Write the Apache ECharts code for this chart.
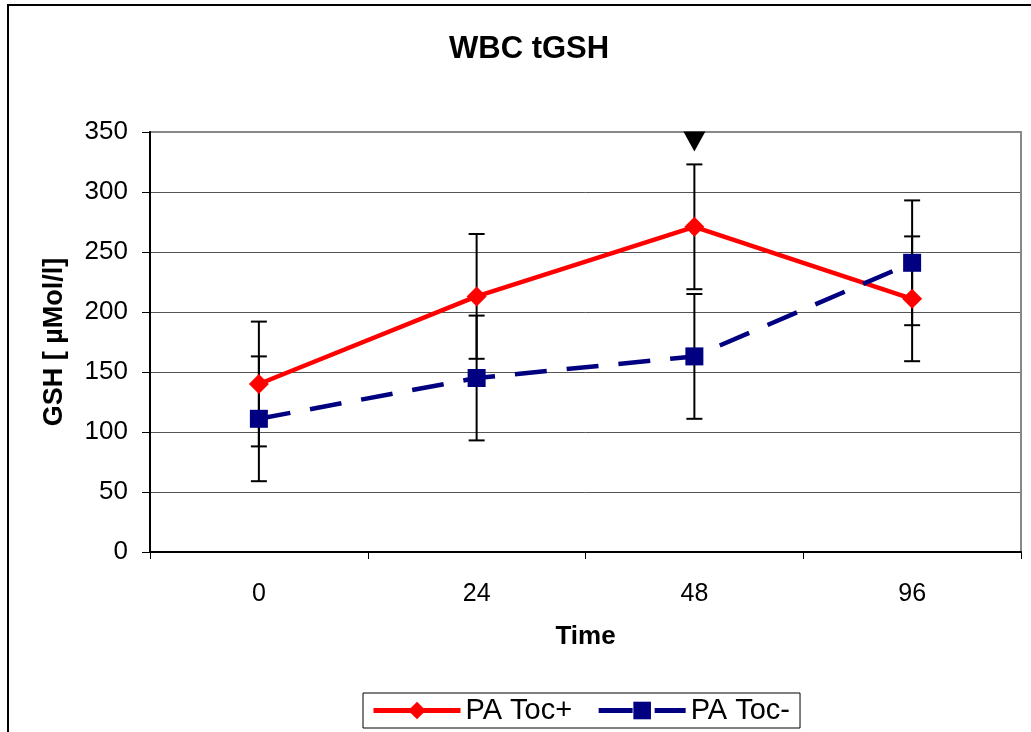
<!DOCTYPE html>
<html>
<head>
<meta charset="utf-8">
<script src="https://cdn.jsdelivr.net/npm/echarts@6/dist/echarts.min.js"></script>
<style>
  html, body { margin: 0; padding: 0; background: #fff; }
  #frame { position: absolute; left: 7px; top: 4px; width: 1030px; height: 740px; border: 2px solid #000; box-sizing: border-box; }
  #main { position: absolute; left: 0; top: 0; width: 1031px; height: 732px; }
</style>
</head>
<body>
<div id="frame"></div>
<div id="main"></div>
<script>
  // time points (h)
  var times = ['0', '24', '48', '96']
  var tocPlus = [140, 213, 271, 211]
  var tocPlusErr = [52, 52, 52, 52]
  var tocMinus = [111, 145, 163, 241]
  var tocMinusErr = [52, 52, 52, 52]
  // significance marker above 48 h
  var markerY = [null, null, 342, null]

  var font = '"Liberation Sans", Arial, sans-serif'

  function errBars(means, errs) {
    return means.map(function (m, i) { return [i, m - errs[i], m + errs[i]] })
  }

  function renderErr(params, api) {
    var x = api.value(0)
    var lo = api.coord([x, api.value(1)])
    var hi = api.coord([x, api.value(2)])
    var w = 8
    var st = { stroke: '#000', lineWidth: 2 }
    return {
      type: 'group',
      children: [
        { type: 'line', shape: { x1: hi[0], y1: hi[1], x2: lo[0], y2: lo[1] }, style: st },
        { type: 'line', shape: { x1: hi[0] - w, y1: hi[1], x2: hi[0] + w, y2: hi[1] }, style: st },
        { type: 'line', shape: { x1: lo[0] - w, y1: lo[1], x2: lo[0] + w, y2: lo[1] }, style: st }
      ]
    }
  }

  var chart = echarts.init(document.getElementById('main'))
  chart.setOption({
    animation: false,
    title: {
      text: 'WBC tGSH',
      left: 444,
      top: 29,
      textStyle: { fontFamily: font, fontSize: 31, fontWeight: 'bold', color: '#000' }
    },
    legend: {
      bottom: 4,
      left: 363,
      data: [
        { name: 'PA Toc+', lineStyle: { width: 5 } },
        { name: 'PA Toc-', lineStyle: { width: 5, type: [34, 22] } }
      ],
      itemWidth: 87,
      itemHeight: 22,
      itemGap: 24,
      padding: [3, 10, 3, 8],
      borderColor: '#000',
      borderWidth: 1,
      textStyle: { fontFamily: font, fontSize: 29, color: '#000' }
    },
    grid: { left: 150, right: 10, top: 132, bottom: 180 },
    xAxis: {
      type: 'category',
      data: times,
      boundaryGap: true,
      name: 'Time',
      nameLocation: 'middle',
      nameGap: 72,
      nameTextStyle: { fontFamily: font, fontSize: 26, fontWeight: 'bold', color: '#000' },
      axisLine: { lineStyle: { color: '#000', width: 2 } },
      axisTick: { show: true, length: 7, lineStyle: { color: '#000' } },
      axisLabel: { fontFamily: font, fontSize: 25, color: '#000', margin: 30 },
      splitLine: { show: false }
    },
    yAxis: {
      type: 'value',
      min: 0,
      max: 350,
      interval: 50,
      name: 'GSH [ µMol/l]',
      nameLocation: 'middle',
      nameGap: 82,
      nameTextStyle: { fontFamily: font, fontSize: 27, fontWeight: 'bold', color: '#000' },
      axisLine: { show: true, lineStyle: { color: '#000', width: 2 } },
      axisTick: { show: true, length: 8, lineStyle: { color: '#000' } },
      axisLabel: { fontFamily: font, fontSize: 26, color: '#000', margin: 22 },
      splitLine: { lineStyle: { color: '#555', width: 1 } }
    },
    series: [
      {
        name: 'PA Toc+',
        type: 'line',
        data: tocPlus,
        symbol: 'diamond',
        symbolSize: 20,
        color: '#ff0000',
        lineStyle: { color: '#ff0000', width: 4.5 },
        itemStyle: { color: '#ff0000' },
        z: 4
      },
      {
        name: 'PA Toc-',
        type: 'line',
        data: tocMinus,
        symbol: 'rect',
        symbolSize: 18,
        color: '#000080',
        lineStyle: { color: '#000080', width: 4.5, type: [32, 20] },
        itemStyle: { color: '#000080' },
        z: 4
      },
      {
        type: 'custom',
        renderItem: renderErr,
        data: errBars(tocPlus, tocPlusErr),
        z: 3
      },
      {
        type: 'custom',
        renderItem: renderErr,
        data: errBars(tocMinus, tocMinusErr),
        z: 3
      },
      {
        type: 'scatter',
        data: markerY,
        symbol: 'triangle',
        symbolRotate: 180,
        symbolSize: [22, 20],
        itemStyle: { color: '#000', opacity: 1 },
        z: 5
      }
    ]
  })
  // plot area outer border (top/right grey)
  chart.setOption({
    graphic: [{
      type: 'rect',
      shape: { x: 150, y: 132, width: 871, height: 420 },
      style: { fill: null, stroke: '#888', lineWidth: 2 },
      silent: true,
      z: 0
    }]
  })
</script>
</body>
</html>
